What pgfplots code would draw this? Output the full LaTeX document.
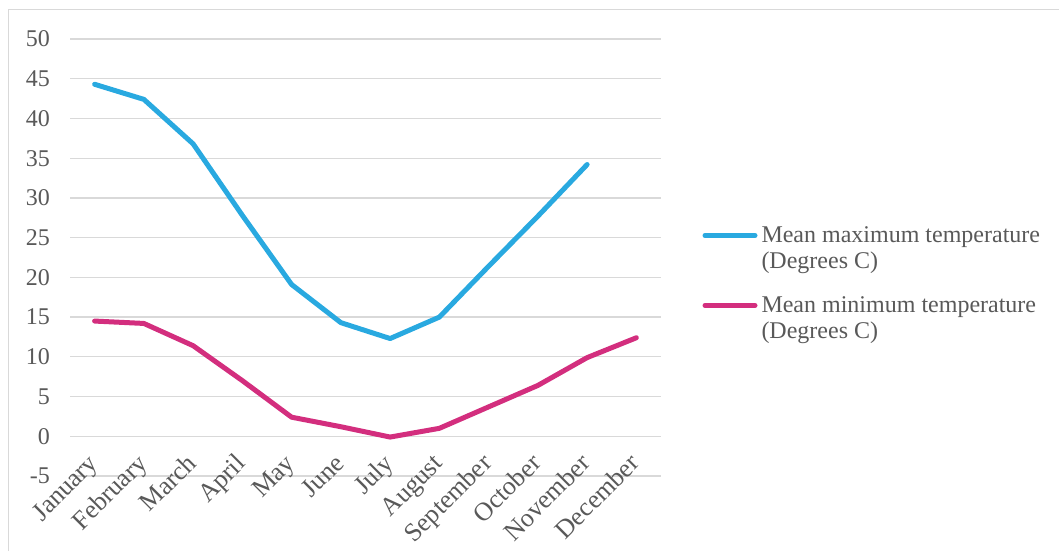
\documentclass[border=0pt]{standalone}
\usepackage{fontspec}
\setmainfont{Liberation Serif}
\usepackage{pgfplots}
\pgfplotsset{compat=1.18}

\definecolor{maxblue}{RGB}{41,169,224}
\definecolor{minpink}{RGB}{211,46,126}
\definecolor{gridgray}{RGB}{217,217,217}
\definecolor{textgray}{RGB}{89,89,89}

\begin{document}
\begin{tikzpicture}
% canvas and chart frame
\path[use as bounding box] (0pt,0pt) rectangle (1059pt,551pt);
\draw[gridgray, line width=1.3pt] (8.5pt,0pt) -- (8.5pt,541.5pt) -- (1059pt,541.5pt);

\begin{axis}[
  at={(70pt,75pt)}, anchor=south west,
  scale only axis, width=591pt, height=437pt,
  xmin=-0.5, xmax=11.5, ymin=-5, ymax=50,
  xtick={0,...,11},
  xticklabels={January,February,March,April,May,June,July,August,September,October,November,December},
  ytick={-5,0,5,10,15,20,25,30,35,40,45,50},
  yticklabels={-5,0,5,10,15,20,25,30,35,40,45,50},
  axis line style={draw=none},
  tick style={draw=none}, major tick length=0pt,
  ymajorgrids,
  grid style={draw=gridgray, line width=1.3pt},
  tick label style={text=textgray},
  yticklabel style={font=\fontsize{24}{28}\selectfont, inner sep=0pt, anchor=east, xshift=-20pt},
  xticklabel style={font=\fontsize{26}{30}\selectfont, inner sep=0pt,
    text height=0.7em, text depth=0.22em,
    xshift=3pt, yshift=13pt, rotate=45, anchor=east},
  legend style={
    at={(1.0702,0.4405)}, anchor=west,
    draw=none, fill=none, inner sep=0pt, outer sep=0pt,
    font=\fontsize{24}{25.5}\selectfont, text=textgray,
    nodes={inner sep=0pt},
    cells={align=left},
    column sep=4pt, row sep=27pt,
  },
  legend cell align=left,
  legend image code/.code={\draw[#1] (0pt,13pt) -- (50pt,13pt);},
  every axis plot/.append style={line width=5pt, line cap=round, line join=round},
]
\addplot[maxblue] coordinates {
  (0,44.3) (1,42.4) (2,36.8) (3,27.8) (4,19.1) (5,14.3)
  (6,12.3) (7,15.0) (8,21.4) (9,27.7) (10,34.2)
};
\addlegendentry{Mean maximum temperature\\(Degrees C)}
\addplot[minpink] coordinates {
  (0,14.5) (1,14.2) (2,11.4) (3,7.0) (4,2.4) (5,1.2)
  (6,-0.1) (7,1.0) (8,3.7) (9,6.4) (10,9.9) (11,12.4)
};
\addlegendentry{Mean minimum temperature\\(Degrees C)}
\end{axis}
\end{tikzpicture}
\end{document}
